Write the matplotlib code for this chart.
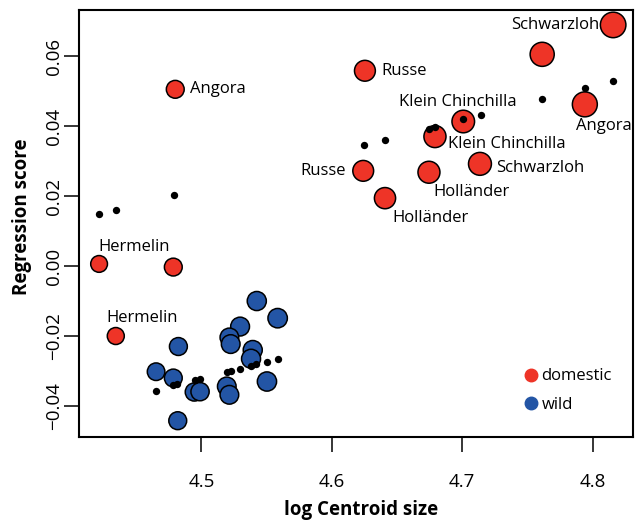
import numpy as np
import matplotlib
matplotlib.use('Agg')
import matplotlib.pyplot as plt
from matplotlib.lines import Line2D

plt.rcParams['font.family'] = ['Open Sans', 'DejaVu Sans']

# domestic breeds (red)
dom_x = [4.480, 4.4216, 4.4785, 4.4344, 4.6254, 4.6241, 4.7008, 4.6791,
         4.6745, 4.6408, 4.7136, 4.8157, 4.7613, 4.7940]
dom_y = [0.0506, 0.0007, -0.0002, -0.0199, 0.0559, 0.0273, 0.0414, 0.0371,
         0.0269, 0.0195, 0.0293, 0.0690, 0.0606, 0.0463]
dom_labels = ['Angora', 'Hermelin', '', 'Hermelin', 'Russe', 'Russe',
              'Klein Chinchilla', 'Klein Chinchilla', 'Holländer', 'Holländer',
              'Schwarzloh', 'Schwarzloh', '', 'Angora']

# wild (blue)
wild_x = [4.5425, 4.5585, 4.5297, 4.5215, 4.5225, 4.4824, 4.5394, 4.5381,
          4.4653, 4.4785, 4.5503, 4.5195, 4.5215, 4.4946, 4.4990, 4.4819]
wild_y = [-0.0099, -0.0148, -0.0172, -0.0203, -0.0222, -0.0229, -0.0239, -0.0264,
          -0.0301, -0.0319, -0.0329, -0.0343, -0.0367, -0.0359, -0.0358, -0.0441]

# predicted values (black dots)
pred_x = [4.4216, 4.4344, 4.4791, 4.6249, 4.6408, 4.6747, 4.6791, 4.7008,
          4.7143, 4.7613, 4.7940, 4.8157,
          4.4653, 4.4785, 4.4816, 4.4952, 4.4990, 4.5195, 4.5225, 4.5297,
          4.5381, 4.5419, 4.5503, 4.5585]
pred_y = [0.0150, 0.0161, 0.0204, 0.0347, 0.0361, 0.0393, 0.0399, 0.0421,
          0.0433, 0.0478, 0.0509, 0.0531,
          -0.0356, -0.0339, -0.0336, -0.0326, -0.0321, -0.0303, -0.0299, -0.0293,
          -0.0284, -0.0279, -0.0272, -0.0264]

xticks = [4.5, 4.6, 4.7, 4.8]
yticks = [-0.04, -0.02, 0.00, 0.02, 0.04, 0.06]

red = '#ee3427'
blue = '#2355a5'

# label offsets in pixels and alignment
lab_off = [(15, 0, 'left'), (-1, 17, 'left'), (0, 0, 'left'), (-9, 18, 'left'),
           (16, 0, 'left'), (-17, 0, 'right'), (-5, 20, 'center'), (13, -7, 'left'),
           (4, -20, 'left'), (7, -20, 'left'), (16, -4, 'left'), (-14, 0, 'right'),
           (0, 0, 'left'), (-9, -22, 'left')]


def msize(x):
    # circle diameter grows with centroid size
    d = 0.218 * np.exp(np.array(x)) * 0.72 - 1.0
    return d ** 2


fig = plt.figure(figsize=(6.35, 5.2), dpi=100)
ax = fig.add_axes([0.124, 0.160, 0.873, 0.821])

ax.scatter(dom_x, dom_y, s=msize(dom_x), c=red, edgecolors='black', linewidths=1.1, zorder=2)
ax.scatter(wild_x, wild_y, s=msize(wild_x), c=blue, edgecolors='black', linewidths=1.1, zorder=2)
ax.scatter(pred_x, pred_y, s=28, c='black', linewidths=0, zorder=3)

for x, y, lab, off in zip(dom_x, dom_y, dom_labels, lab_off):
    if lab:
        ax.annotate(lab, (x, y), xytext=(off[0], off[1]), textcoords='offset pixels',
                    ha=off[2], va='center', fontsize=12)

ax.set_xlim(4.406, 4.831)
ax.set_ylim(-0.0487, 0.0733)
ax.set_xticks(xticks)
ax.set_xticklabels(['%.1f' % t for t in xticks], fontsize=13.5)
ax.set_yticks(yticks)
ax.set_yticklabels([('%.2f' % t).replace('-', '\u2212') for t in yticks],
                   fontsize=13.5, rotation=90, va='center')
ax.tick_params(axis='x', direction='out', length=10.8, width=1.1, pad=15)
ax.tick_params(axis='y', direction='out', length=10.8, width=1.1, pad=0.2)
for sp in ax.spines.values():
    sp.set_linewidth(1.5)

ax.set_xlabel('log Centroid size', fontsize=13.5, fontweight='bold')
ax.xaxis.set_label_coords(0.509, -0.1726)
ax.xaxis.label.set_va('center')
ax.set_ylabel('Regression score', fontsize=13.5, fontweight='bold')
ax.yaxis.set_label_coords(-0.1030, 0.516)
ax.yaxis.label.set_va('center')

handles = [Line2D([], [], marker='o', ls='', color=red, markersize=9),
           Line2D([], [], marker='o', ls='', color=blue, markersize=9)]
ax.legend(handles, ['domestic', 'wild'], loc='upper left', bbox_to_anchor=(0.803, 0.160),
          frameon=False, fontsize=12, handlelength=0.8, handletextpad=0.25,
          labelspacing=0.75, borderpad=0, borderaxespad=0)

fig.savefig('out.png', dpi=100)
